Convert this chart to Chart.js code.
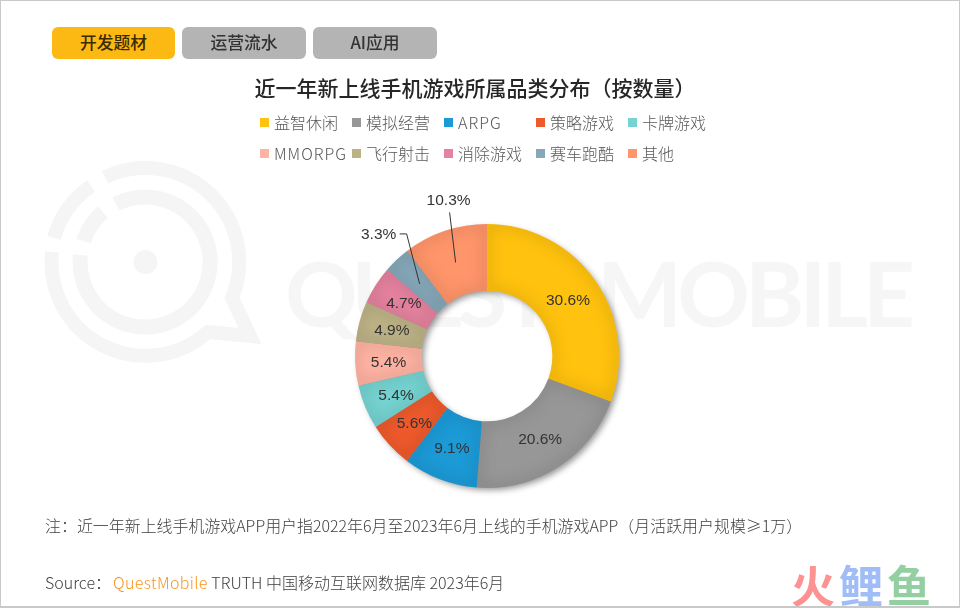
<!DOCTYPE html>
<html>
<head>
<meta charset="utf-8">
<script src="https://cdn.jsdelivr.net/npm/chart.js@4"></script>
<style>
  html, body { margin: 0; padding: 0; background: #fff; }
  #page { position: relative; width: 960px; height: 608px; overflow: hidden; background: #fff; font-family: "Noto Sans CJK SC", sans-serif; }
  #frame { position: absolute; inset: 0; border: 1px solid #c9c9c9; border-bottom-width: 2px; box-sizing: border-box; z-index: 3; pointer-events: none; }
  #mark { position: absolute; left: 0; top: 0; }
  #chart { position: absolute; left: 0; top: 0; }
  .tab { position: absolute; top: 27px; height: 32px; line-height: 31px; border-radius: 6px; text-align: center; font-size: 16.8px; font-weight: 500; color: #333; background: #b4b4b4; }
  .tab.on { background: #fdb913; color: #3a2a00; }
  #title { position: absolute; left: 0; top: 72px; width: 960px; text-align: center; font-size: 21px; line-height: 30px; font-weight: 500; color: #262626; text-indent: -10px; }
  .lg { position: absolute; font-size: 16px; line-height: 22px; font-weight: 300; color: #595959; white-space: nowrap; }
  .lg.latin { letter-spacing: 1px; }
  .lg i { position: absolute; left: -14px; top: 7px; width: 9px; height: 9px; }
  #note, #source { position: absolute; left: 45px; font-size: 15.95px; font-weight: 300; line-height: 20px; color: #404040; white-space: nowrap; }
  #note { top: 515px; }
  #source { top: 572px; font-size: 16px; }
  #source b { font-weight: 300; color: #f7941d; margin-left: 2px; letter-spacing: 0.35px; }
  #fish { position: absolute; left: 791px; top: 559px; font-size: 44px; letter-spacing: 4px; line-height: 50px; font-weight: 700; white-space: nowrap; }
</style>
</head>
<body>
<div id="page">
  <svg id="mark" width="960" height="608">
    <g fill="none" stroke="#f5f5f5" stroke-width="14" stroke-miterlimit="10">
      <path d="M52 252 A94 94 0 0 0 208 332 L250 336 L232 298 A94 94 0 0 0 105 177"/>
      <path d="M54 238 A94 94 0 0 1 91 186"/>
      <path d="M80.5 255 A65 65 0 1 0 116 204" stroke-width="15"/>
      <path d="M83.5 241 A65 65 0 0 1 103 212" stroke-width="15"/>
    </g>
    <circle cx="145.5" cy="262" r="12" fill="#f5f5f5"/>
    <g font-family="Lato" font-size="90" font-weight="700" fill="#f6f6f6">
      <text x="285" y="327" textLength="270" lengthAdjust="spacing">QUEST</text>
      <text x="597" y="327" textLength="318" lengthAdjust="spacing">MOBILE</text>
    </g>
  </svg>
  <canvas id="chart" width="960" height="608"></canvas>
  <div class="tab on" style="left:52px;width:123px">开发题材</div>
  <div class="tab" style="left:182px;width:124px">运营流水</div>
  <div class="tab" style="left:313px;width:124px">AI应用</div>
  <div id="title">近一年新上线手机游戏所属品类分布（按数量）</div>
  <div id="legend"></div>
  <div id="note">注：近一年新上线手机游戏APP用户指2022年6月至2023年6月上线的手机游戏APP（月活跃用户规模≥1万）</div>
  <div id="source">Source：<b>QuestMobile</b> TRUTH 中国移动互联网数据库 2023年6月</div>
  <div id="fish"><span style="color:#fd9292">火</span><span style="color:#a0bdf8">鲤</span><span style="color:#93cfa3">鱼</span></div>
  <div id="frame"></div>
</div>
<script>
const categories = ['益智休闲', '模拟经营', 'ARPG', '策略游戏', '卡牌游戏', 'MMORPG', '飞行射击', '消除游戏', '赛车跑酷', '其他'];
const shares = [30.6, 20.6, 9.1, 5.6, 5.4, 5.4, 4.9, 4.7, 3.3, 10.3];
const sliceColors = ['#ffc20e', '#979797', '#1c9ad6', '#ee5a2c', '#75d3d1', '#ffb3a3', '#bdb286', '#e5829f', '#86a9ba', '#ff956a'];

// legend slots, two rows of five
const legendX = [274, 366, 458, 550, 642];
const legendY = [111, 142];
categories.forEach((name, i) => {
  const el = document.createElement('div');
  el.className = /^[A-Z]+$/.test(name) ? 'lg latin' : 'lg';
  el.style.left = legendX[i % 5] + 'px';
  el.style.top = legendY[Math.floor(i / 5)] + 'px';
  el.innerHTML = `<i style="background:${sliceColors[i]}"></i>${name}`;
  document.getElementById('legend').appendChild(el);
});

function shade(hex, f, alpha) {
  const n = parseInt(hex.slice(1), 16);
  const c = [n >> 16, (n >> 8) & 255, n & 255].map(v => Math.round(v * (1 + f)));
  return `rgba(${c[0]},${c[1]},${c[2]},${alpha})`;
}

function slicePath(c, a) {
  c.beginPath();
  c.arc(a.x, a.y, a.outerRadius, a.startAngle, a.endAngle);
  c.arc(a.x, a.y, a.innerRadius, a.endAngle, a.startAngle, true);
  c.closePath();
}

// soft drop shadow under the whole ring
const ringShadow = {
  id: 'ringShadow',
  beforeDatasetsDraw(chart) {
    const a = chart.getDatasetMeta(0).data[0];
    const c = chart.ctx;
    c.save();
    c.shadowColor = 'rgba(0,0,0,0.42)';
    c.shadowBlur = 6;
    c.shadowOffsetX = 3;
    c.shadowOffsetY = 3;
    c.fillStyle = '#999';
    c.beginPath();
    c.arc(a.x, a.y, a.outerRadius - 1, 0, Math.PI * 2);
    c.arc(a.x, a.y, a.innerRadius + 1, 0, Math.PI * 2, true);
    c.fill();
    c.restore();
  },
};

// bevel: the stroke sits off canvas so only its blurred shadow lands inside the slice
const sliceBevel = {
  id: 'sliceBevel',
  afterDatasetsDraw(chart) {
    const c = chart.ctx;
    const away = 2000 * chart.currentDevicePixelRatio;
    chart.getDatasetMeta(0).data.forEach((arc, i) => {
      c.save();
      slicePath(c, arc);
      c.clip();
      c.translate(-2000, 0);
      slicePath(c, arc);
      c.lineWidth = 3;
      c.strokeStyle = '#000';
      c.shadowColor = shade(sliceColors[i], -0.35, 0.8);
      c.shadowBlur = 14;
      c.shadowOffsetX = away;
      c.stroke();
      c.restore();
    });
  },
};

// index -> label offset from the arc centre, with optional elbow
const callouts = {
  8: { dx: -41, dy: -49, elbow: [-13, -50, -20, -50] },
  9: { dx: -7, dy: -62, elbow: [-6, -50] },
};

const sliceLabels = {
  id: 'sliceLabels',
  afterDatasetsDraw(chart) {
    const c = chart.ctx;
    c.save();
    c.font = '15.5px "Liberation Sans"';
    c.textAlign = 'center';
    c.textBaseline = 'middle';
    chart.getDatasetMeta(0).data.forEach((arc, i) => {
      const p = arc.getCenterPoint();
      const co = callouts[i];
      if (co) {
        c.strokeStyle = '#333';
        c.lineWidth = 1;
        c.beginPath();
        c.moveTo(p.x, p.y);
        for (let k = 0; k < co.elbow.length; k += 2) c.lineTo(p.x + co.elbow[k], p.y + co.elbow[k + 1]);
        c.stroke();
      }
      c.fillStyle = '#333';
      c.fillText(shares[i].toFixed(1) + '%', p.x + (co ? co.dx : 0), p.y + (co ? co.dy : 1));
    });
    c.restore();
  },
};

new Chart(document.getElementById('chart'), {
  type: 'doughnut',
  data: { labels: categories, datasets: [{ data: shares, backgroundColor: sliceColors, borderWidth: 0 }] },
  options: {
    responsive: false,
    animation: false,
    cutout: '49.5%',
    layout: { padding: { left: 355, right: 341, top: 224, bottom: 120 } },
    plugins: { legend: { display: false }, tooltip: { enabled: false } },
  },
  plugins: [ringShadow, sliceBevel, sliceLabels],
});
</script>
</body>
</html>
